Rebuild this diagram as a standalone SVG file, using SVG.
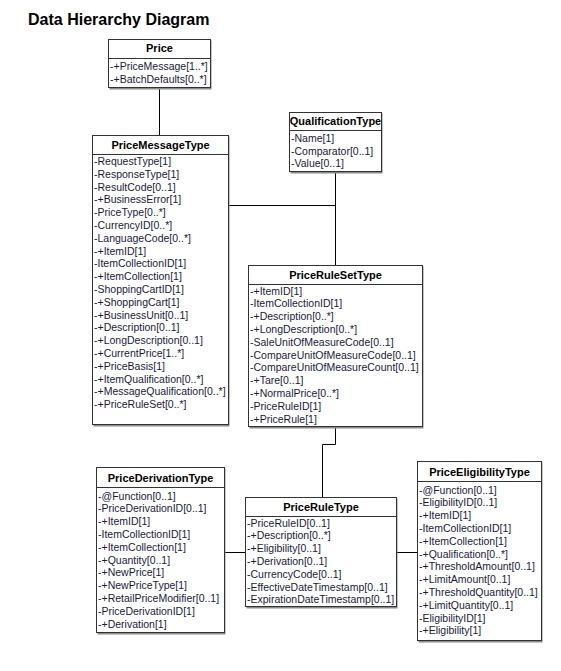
<svg xmlns="http://www.w3.org/2000/svg" width="561" height="671" viewBox="0 0 561 671">
<style>
.box{fill:#ffffff;stroke:#333333;stroke-width:1}
.sh{fill:#8a8a8a}
.div{stroke:#333333;stroke-width:1}
.hd{font-family:"Liberation Sans",Arial,sans-serif;font-size:11px;font-weight:bold;fill:#000000;text-anchor:middle}
.at{font-family:"Liberation Sans",Arial,sans-serif;font-size:10.5px;fill:#1a1a3a}
.ttl{font-family:"Liberation Sans",Arial,sans-serif;font-size:16px;font-weight:bold;fill:#000000}
.cn{fill:none;stroke:#000000;stroke-width:1}
</style>
<rect x="0" y="0" width="561" height="671" fill="#ffffff"/>
<text class="ttl" x="28" y="25">Data Hierarchy Diagram</text>

<g id="connectors">
<path class="cn" d="M159.5,88 V135"/>
<path class="cn" d="M228,205.5 H335.5"/>
<path class="cn" d="M335.5,172 V265"/>
<path class="cn" d="M335.5,427 V444.5 H322.5 V497"/>
<path class="cn" d="M224,552.5 H245"/>
<path class="cn" d="M397,552.5 H417"/>
</g>

<g id="Price">
<rect class="sh" x="109.5" y="40.5" width="102" height="49"/>
<rect class="box" x="108.5" y="39.5" width="102" height="48"/>
<line class="div" x1="108.5" y1="58.5" x2="210.5" y2="58.5"/>
<text class="hd" x="159.5" y="52">Price</text>
<text class="at" x="110" y="70">-+PriceMessage[1..*]</text>
<text class="at" x="110" y="82.5">-+BatchDefaults[0..*]</text>
</g>

<g id="QualificationType">
<rect class="sh" x="290.5" y="113.5" width="92" height="60"/>
<rect class="box" x="289.5" y="112.5" width="92" height="59"/>
<line class="div" x1="289.5" y1="130.5" x2="381.5" y2="130.5"/>
<text class="hd" x="335.5" y="125">QualificationType</text>
<text class="at" x="291" y="142">-Name[1]</text>
<text class="at" x="291" y="154.5">-Comparator[0..1]</text>
<text class="at" x="291" y="167">-Value[0..1]</text>
</g>

<g id="PriceMessageType">
<rect class="sh" x="93.5" y="136.5" width="136" height="290"/>
<rect class="box" x="92.5" y="135.5" width="136" height="289"/>
<line class="div" x1="92.5" y1="154.5" x2="228.5" y2="154.5"/>
<text class="hd" x="160.5" y="148.5">PriceMessageType</text>
<text class="at" x="94" y="165">-RequestType[1]</text>
<text class="at" x="94" y="177.8">-ResponseType[1]</text>
<text class="at" x="94" y="190.6">-ResultCode[0..1]</text>
<text class="at" x="94" y="203.4">-+BusinessError[1]</text>
<text class="at" x="94" y="216.2">-PriceType[0..*]</text>
<text class="at" x="94" y="229">-CurrencyID[0..*]</text>
<text class="at" x="94" y="241.8">-LanguageCode[0..*]</text>
<text class="at" x="94" y="254.6">-+ItemID[1]</text>
<text class="at" x="94" y="267.4">-ItemCollectionID[1]</text>
<text class="at" x="94" y="280.2">-+ItemCollection[1]</text>
<text class="at" x="94" y="293">-ShoppingCartID[1]</text>
<text class="at" x="94" y="305.8">-+ShoppingCart[1]</text>
<text class="at" x="94" y="318.6">-+BusinessUnit[0..1]</text>
<text class="at" x="94" y="331.4">-+Description[0..1]</text>
<text class="at" x="94" y="344.2">-+LongDescription[0..1]</text>
<text class="at" x="94" y="357">-+CurrentPrice[1..*]</text>
<text class="at" x="94" y="369.8">-+PriceBasis[1]</text>
<text class="at" x="94" y="382.6">-+ItemQualification[0..*]</text>
<text class="at" x="94" y="395.4">-+MessageQualification[0..*]</text>
<text class="at" x="94" y="408.2">-+PriceRuleSet[0..*]</text>
</g>

<g id="PriceRuleSetType">
<rect class="sh" x="249.5" y="266.5" width="174" height="162"/>
<rect class="box" x="248.5" y="265.5" width="174" height="161"/>
<line class="div" x1="248.5" y1="284.5" x2="422.5" y2="284.5"/>
<text class="hd" x="335.5" y="278.5">PriceRuleSetType</text>
<text class="at" x="250" y="294.5">-+ItemID[1]</text>
<text class="at" x="250" y="307.3">-ItemCollectionID[1]</text>
<text class="at" x="250" y="320.1">-+Description[0..*]</text>
<text class="at" x="250" y="332.9">-+LongDescription[0..*]</text>
<text class="at" x="250" y="345.7">-SaleUnitOfMeasureCode[0..1]</text>
<text class="at" x="250" y="358.5">-CompareUnitOfMeasureCode[0..1]</text>
<text class="at" x="250" y="371.3">-CompareUnitOfMeasureCount[0..1]</text>
<text class="at" x="250" y="384.1">-+Tare[0..1]</text>
<text class="at" x="250" y="396.9">-+NormalPrice[0..*]</text>
<text class="at" x="250" y="409.7">-PriceRuleID[1]</text>
<text class="at" x="250" y="422.5">-+PriceRule[1]</text>
</g>

<g id="PriceDerivationType">
<rect class="sh" x="97.5" y="468.5" width="128" height="166"/>
<rect class="box" x="96.5" y="467.5" width="128" height="165"/>
<line class="div" x1="96.5" y1="487.5" x2="224.5" y2="487.5"/>
<text class="hd" x="160.5" y="481.5">PriceDerivationType</text>
<text class="at" x="98" y="499.5">-@Function[0..1]</text>
<text class="at" x="98" y="512.3">-PriceDerivationID[0..1]</text>
<text class="at" x="98" y="525.1">-+ItemID[1]</text>
<text class="at" x="98" y="537.9">-ItemCollectionID[1]</text>
<text class="at" x="98" y="550.7">-+ItemCollection[1]</text>
<text class="at" x="98" y="563.5">-+Quantity[0..1]</text>
<text class="at" x="98" y="576.3">-+NewPrice[1]</text>
<text class="at" x="98" y="589.1">-+NewPriceType[1]</text>
<text class="at" x="98" y="601.9">-+RetailPriceModifier[0..1]</text>
<text class="at" x="98" y="614.7">-PriceDerivationID[1]</text>
<text class="at" x="98" y="627.5">-+Derivation[1]</text>
</g>

<g id="PriceRuleType">
<rect class="sh" x="246.5" y="498.5" width="151" height="110"/>
<rect class="box" x="245.5" y="497.5" width="151" height="109"/>
<line class="div" x1="245.5" y1="516.5" x2="396.5" y2="516.5"/>
<text class="hd" x="321" y="510.5">PriceRuleType</text>
<text class="at" x="247" y="526.5">-PriceRuleID[0..1]</text>
<text class="at" x="247" y="539.3">-+Description[0..*]</text>
<text class="at" x="247" y="552.1">-+Eligibility[0..1]</text>
<text class="at" x="247" y="564.9">-+Derivation[0..1]</text>
<text class="at" x="247" y="577.7">-CurrencyCode[0..1]</text>
<text class="at" x="247" y="590.5">-EffectiveDateTimestamp[0..1]</text>
<text class="at" x="247" y="603.3">-ExpirationDateTimestamp[0..1]</text>
</g>

<g id="PriceEligibilityType">
<rect class="sh" x="418.5" y="462.5" width="124" height="180"/>
<rect class="box" x="417.5" y="461.5" width="124" height="179"/>
<line class="div" x1="417.5" y1="481.5" x2="541.5" y2="481.5"/>
<text class="hd" x="479.5" y="475.5">PriceEligibilityType</text>
<text class="at" x="419" y="493.5">-@Function[0..1]</text>
<text class="at" x="419" y="506.3">-EligibilityID[0..1]</text>
<text class="at" x="419" y="519.1">-+ItemID[1]</text>
<text class="at" x="419" y="531.9">-ItemCollectionID[1]</text>
<text class="at" x="419" y="544.7">-+ItemCollection[1]</text>
<text class="at" x="419" y="557.5">-+Qualification[0..*]</text>
<text class="at" x="419" y="570.3">-+ThresholdAmount[0..1]</text>
<text class="at" x="419" y="583.1">-+LimitAmount[0..1]</text>
<text class="at" x="419" y="595.9">-+ThresholdQuantity[0..1]</text>
<text class="at" x="419" y="608.7">-+LimitQuantity[0..1]</text>
<text class="at" x="419" y="621.5">-EligibilityID[1]</text>
<text class="at" x="419" y="634.3">-+Eligibility[1]</text>
</g>
</svg>
